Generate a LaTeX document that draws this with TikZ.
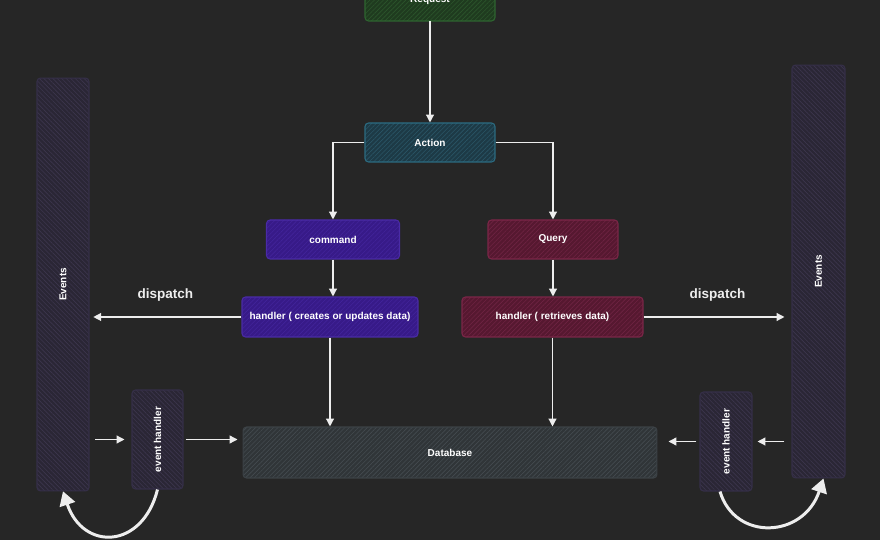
\documentclass[tikz,border=0pt]{standalone}
\usepackage{fontspec}
\setmainfont{Liberation Sans}
\usepackage{tikz}
\usetikzlibrary{arrows.meta, positioning, calc, patterns.meta}
\definecolor{canvasbg}{HTML}{262626}
\definecolor{arrowwhite}{HTML}{EDEDED}
\definecolor{reqfill}{HTML}{1F3B1F}
\definecolor{reqedge}{HTML}{2E6630}
\definecolor{reqhatch}{HTML}{2C552C}
\definecolor{actfill}{HTML}{1D3A46}
\definecolor{actedge}{HTML}{2C6C82}
\definecolor{acthatch}{HTML}{2A5566}
\definecolor{cmdfill}{HTML}{371A88}
\definecolor{cmdedge}{HTML}{4A2BA6}
\definecolor{cmdhatch}{HTML}{42249A}
\definecolor{qryfill}{HTML}{561830}
\definecolor{qryedge}{HTML}{7C2648}
\definecolor{qryhatch}{HTML}{6E2442}
\definecolor{dbfill}{HTML}{303538}
\definecolor{dbedge}{HTML}{3C4246}
\definecolor{dbhatch}{HTML}{444B50}
\definecolor{evfill}{HTML}{2A2635}
\definecolor{evedge}{HTML}{352F48}
\definecolor{evhatch}{HTML}{3C364D}

\tikzset{
  block/.style={rounded corners=2pt, line width=0.6pt, text=white,
    font=\fontsize{5.7}{6}\selectfont\bfseries, inner sep=0pt},
  hatchne/.style={preaction={fill=#1fill},
    pattern={Lines[angle=45,distance=1.8pt,line width=0.35pt]}, pattern color=#1hatch, draw=#1edge},
  hatchnw/.style={preaction={fill=#1fill},
    pattern={Lines[angle=-45,distance=1.8pt,line width=0.35pt]}, pattern color=#1hatch, draw=#1edge},
  flow/.style={draw=arrowwhite, line width=0.75pt, -{Triangle[width=4.5pt,length=4.5pt]}},
  loopback/.style={draw=arrowwhite, line width=1.7pt, -{Triangle[width=9pt,length=8pt]}},
  label/.style={text=arrowwhite, font=\fontsize{7.7}{9}\selectfont\bfseries}
}

\begin{document}
\begin{tikzpicture}[x=0.02cm, y=-0.02cm]
  \fill[canvasbg] (0,0) rectangle (880,540);
  \useasboundingbox (0,0) rectangle (880,540);
  \clip (0,0) rectangle (880,540);

  % Request / action / command / query column
  \node[block, hatchne=req, minimum width=2.6cm, minimum height=0.84cm] (request) at (430,0) {Request};
  \node[block, hatchne=act, minimum width=2.6cm, minimum height=0.78cm] (action) at (430,142.5) {Action};
  \node[block, hatchne=cmd, minimum width=2.66cm, minimum height=0.78cm] (command) at (333,239.5) {command};
  \node[block, hatchne=qry, minimum width=2.6cm, minimum height=0.78cm] (query) at (553,239.5) {Query};
  \node[block, hatchne=cmd, minimum width=3.52cm, minimum height=0.8cm] (cmdhandler) at (330,317) {handler ( creates or updates data)};
  \node[block, hatchne=qry, minimum width=3.62cm, minimum height=0.8cm] (qryhandler) at (552.5,317) {handler ( retrieves data)};
  \node[block, hatchne=db, minimum width=8.28cm, minimum height=1.02cm] (database) at (450,452.5) {Database};

  % Event columns
  \node[block, hatchnw=ev, minimum width=1.04cm, minimum height=8.26cm] (eventsL) at (63,284.5) {};
  \node[block, rotate=90] at (eventsL.center) {Events};
  \node[block, hatchnw=ev, minimum width=1.06cm, minimum height=8.26cm] (eventsR) at (818.5,271.5) {};
  \node[block, rotate=90] at (eventsR.center) {Events};
  \node[block, hatchnw=ev, minimum width=1.02cm, minimum height=1.98cm] (evhandlerL) at (157.5,439.5) {};
  \node[block, rotate=90] at (evhandlerL.center) {event handler};
  \node[block, hatchnw=ev, minimum width=1.04cm, minimum height=1.98cm] (evhandlerR) at (726,441.5) {};
  \node[block, rotate=90] at (evhandlerR.center) {event handler};

  % Connectors
  \draw[flow] (request) -- (action);
  \draw[flow] (action.west) -| (command.north);
  \draw[flow] (action.east) -| (query.north);
  \draw[flow] (command.south) -- (command.south |- cmdhandler.north);
  \draw[flow] (query.south) -- (query.south |- qryhandler.north);
  \draw[flow] (cmdhandler.south) -- (cmdhandler.south |- database.north);
  \draw[flow] (qryhandler.south) -- (qryhandler.south |- database.north);
  \draw[flow, shorten >=0.08cm] (cmdhandler.west) -- (cmdhandler.west -| eventsL.east)
    node[label, midway, above=5pt] (dispatchL) {dispatch};
  \draw[flow, shorten >=0.14cm] (qryhandler.east) -- (qryhandler.east -| eventsR.west)
    node[label, midway, above=5pt] (dispatchR) {dispatch};
  \draw[flow, shorten <=0.12cm, shorten >=0.14cm] (eventsL.east |- evhandlerL.west) -- (evhandlerL.west);
  \draw[flow, shorten <=0.04cm, shorten >=0.1cm] (evhandlerL.east) -- (evhandlerL.east -| database.west);
  \draw[flow, shorten <=0.14cm, shorten >=0.1cm] (eventsR.west |- evhandlerR.west) -- (evhandlerR.east);
  \draw[flow, shorten <=0.06cm, shorten >=0.22cm] (evhandlerR.west) -- (evhandlerR.west -| database.east);

  % Loop back to events
  \draw[loopback] (evhandlerL.south) .. controls +(-15,60) and +(20,60) .. (eventsL.south);
  \draw[loopback] ([xshift=-0.12cm]evhandlerR.south) .. controls +(15,50) and +(-20,60) .. ([xshift=0.1cm]eventsR.south);
\end{tikzpicture}
\end{document}
